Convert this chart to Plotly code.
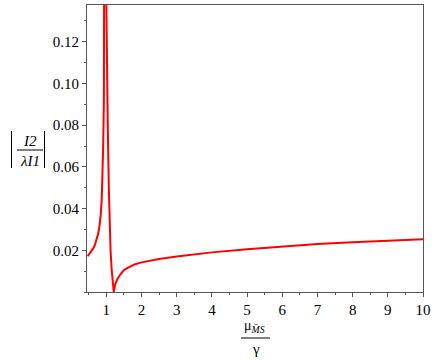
import plotly.graph_objects as go

# |I2 / (lambda I1)|, as a function of mu_MS / gamma
ratio = [0.47, 0.55, 0.62, 0.67, 0.72, 0.76, 0.80, 0.84, 0.87, 0.89, 0.91,
         0.93, 0.945, 0.955, 0.975, 0.995, 1.01, 1.04, 1.07, 1.09, 1.12,
         1.15, 1.18, 1.21, 1.25, 1.30, 1.40, 1.50, 1.62, 1.80, 2.0, 2.5,
         3.0, 3.5, 4.0, 5.0, 6.0, 7.0, 8.0, 9.0, 10.0]
amplitude = [0.0172, 0.0190, 0.0208, 0.0224, 0.0250, 0.0275, 0.031, 0.037,
             0.045, 0.055, 0.070, 0.092, 0.120, 0.145, 0.5, 0.145, 0.115,
             0.080, 0.050, 0.032, 0.020, 0.011, 0.004, 0.0, 0.0035, 0.0058,
             0.0085, 0.0105, 0.0117, 0.0132, 0.0142, 0.0158, 0.0170, 0.0180,
             0.0190, 0.0205, 0.0218, 0.0230, 0.0239, 0.0246, 0.0253]

x_ticks = [1, 2, 3, 4, 5, 6, 7, 8, 9, 10]
y_ticks = [0.02, 0.04, 0.06, 0.08, 0.10, 0.12]
y_labels = ["0.02", "0.04", "0.06", "0.08", "0.10", "0.12"]

W, H = 436, 364
L, R, T, B = 87, 13, 5, 72
serif = "Liberation Serif"

fig = go.Figure()
fig.add_trace(
    go.Scatter(
        x=ratio,
        y=amplitude,
        mode="lines",
        line=dict(color="#ff0000", width=2),
        showlegend=False,
    )
)

axis_common = dict(
    showgrid=False,
    zeroline=False,
    showline=True,
    linecolor="#555555",
    linewidth=1,
    mirror=True,
    ticks="outside",
    ticklen=4,
    tickcolor="#555555",
    tickfont=dict(family=serif, size=15, color="#000000"),
)

fig.update_xaxes(
    range=[0.45, 10.0],
    tickvals=x_ticks,
    minor=dict(tick0=0.5, dtick=0.5, ticks="outside", ticklen=2, tickcolor="#555555"),
    **axis_common,
)
fig.update_yaxes(
    range=[0.0, 0.1376],
    tickvals=y_ticks,
    ticktext=y_labels,
    minor=dict(tick0=0.0, dtick=0.01, ticks="outside", ticklen=2, tickcolor="#555555"),
    **axis_common,
)


# pixel position in the page -> paper coordinates of the plot area
def px(x):
    return (x - L) / (W - L - R)


def py(y):
    return (H - B - y) / (H - T - B)


# ------------------------------------------------------------------
# axis titles drawn as stacked fractions
notes = [
    ("<i>I2</i>", 30, 141, "middle", 15),
    ("<i>λI1</i>", 30, 161, "middle", 15),
    ("μ<sub><i>M\u0304S</i></sub>", 254, 337, "bottom", 14),
    ("γ", 256, 349, "middle", 15),
]
for text, x, y, anchor, size in notes:
    fig.add_annotation(
        text=text, x=px(x), y=py(y), xref="paper", yref="paper",
        showarrow=False, xanchor="center", yanchor=anchor,
        font=dict(family=serif, size=size, color="#000000"),
    )

lines = [
    (17, 150, 43, 150),      # y fraction bar
    (11.5, 131, 11.5, 168),  # left abs bar
    (44.5, 131, 44.5, 168),  # right abs bar
    (241, 338, 270, 338),    # x fraction bar
]
for x0, y0, x1, y1 in lines:
    fig.add_shape(
        type="line", xref="paper", yref="paper",
        x0=px(x0), y0=py(y0), x1=px(x1), y1=py(y1),
        line=dict(color="#000000", width=1),
    )

fig.update_layout(
    width=W,
    height=H,
    margin=dict(l=L, r=R, t=T, b=B),
    font=dict(family=serif, color="#000000"),
    paper_bgcolor="white",
    plot_bgcolor="white",
)

fig.write_html(
    "out.html",
    config={"displayModeBar": False},
    post_script="document.body.style.margin='0';",
)
